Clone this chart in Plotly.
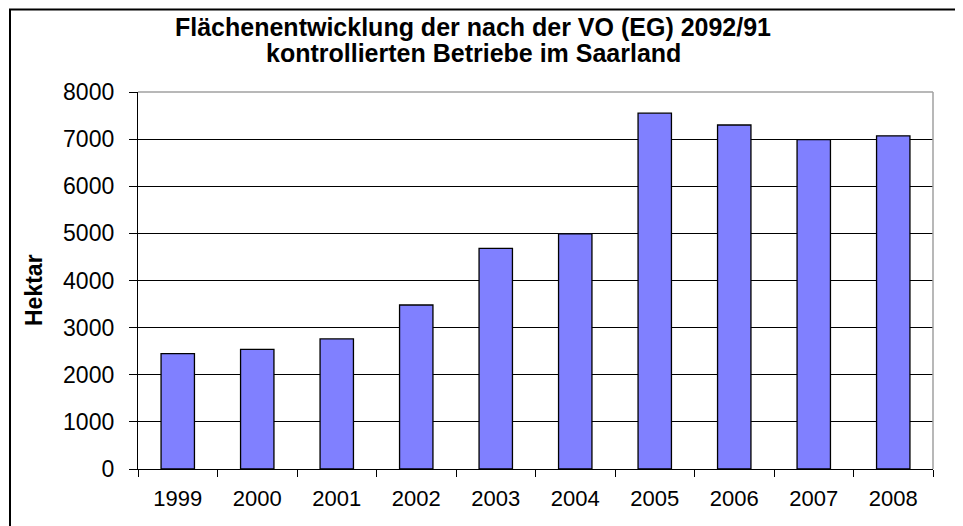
import plotly.graph_objects as go

years = ["1999", "2000", "2001", "2002", "2003", "2004", "2005", "2006", "2007", "2008"]
hektar = [2450, 2540, 2760, 3480, 4680, 4990, 7550, 7300, 6990, 7070]
y_ticks = [0, 1000, 2000, 3000, 4000, 5000, 6000, 7000, 8000]
title_lines = ["Flächenentwicklung der nach der VO (EG) 2092/91",
               "kontrollierten Betriebe im Saarland"]
y_title = "Hektar"

# the page body adds an 8px margin; work in page pixels and shift
OFF = 8
PW, PH = 963, 526
W, H = PW - OFF, PH - OFF
L, R, T, B = 138, 933, 92, 469          # plot area in page pixels
pw, ph = R - L, B - T

def px(x):
    return (x - L) / pw

def py(y):
    return (B - y) / ph

FONT = "Liberation Sans, Arial, sans-serif"

fig = go.Figure(go.Bar(
    x=years, y=hektar,
    marker=dict(color="#8080FF", line=dict(color="black", width=1.3)),
    width=0.42,
))

fig.update_layout(
    width=W, height=H,
    margin=dict(l=L - OFF, r=PW - R, t=T - OFF, b=PH - B, pad=0),
    paper_bgcolor="white", plot_bgcolor="white",
    showlegend=False,
    font=dict(family=FONT, color="black", size=22),
    xaxis=dict(
        type="category", showline=True, linecolor="black", linewidth=1.3,
        ticks="outside", ticklen=7, tickcolor="black", tickson="boundaries",
        showgrid=False, ticklabelstandoff=9, tickfont=dict(size=22),
    ),
    yaxis=dict(
        range=[0, 8000], tickvals=y_ticks, showline=True, linecolor="black", linewidth=1.3,
        ticks="outside", ticklen=8, tickcolor="black",
        showgrid=True, gridcolor="black", gridwidth=1.3, zeroline=False,
        ticklabelstandoff=10, tickfont=dict(size=23),
    ),
    annotations=[
        dict(text=f"<b>{title_lines[0]}</b>", xref="paper", yref="paper",
             x=px(473), y=py(27), xanchor="center", yanchor="middle",
             showarrow=False, font=dict(size=25, family=FONT)),
        dict(text=f"<b>{title_lines[1]}</b>", xref="paper", yref="paper",
             x=px(473), y=py(53), xanchor="center", yanchor="middle",
             showarrow=False, font=dict(size=25, family=FONT)),
        dict(text=f"<b>{y_title}</b>", xref="paper", yref="paper",
             x=px(34), y=py(290), xanchor="center", yanchor="middle",
             textangle=-90, showarrow=False, font=dict(size=23, family=FONT)),
    ],
    shapes=[
        # plot area border (top, right) in gray
        dict(type="line", xref="paper", yref="paper", x0=0, x1=1, y0=1, y1=1,
             line=dict(color="#A0A0A0", width=1.5), layer="above"),
        dict(type="line", xref="paper", yref="paper", x0=1, x1=1, y0=0, y1=1,
             line=dict(color="#A0A0A0", width=1.5), layer="above"),
        # outer chart border
        dict(type="rect", xref="paper", yref="paper",
             x0=px(10), x1=px(PW + 20), y0=py(9.5), y1=py(PH + 20),
             line=dict(color="black", width=2), fillcolor="rgba(0,0,0,0)", layer="above"),
    ],
)

fig.write_html("out.html")
